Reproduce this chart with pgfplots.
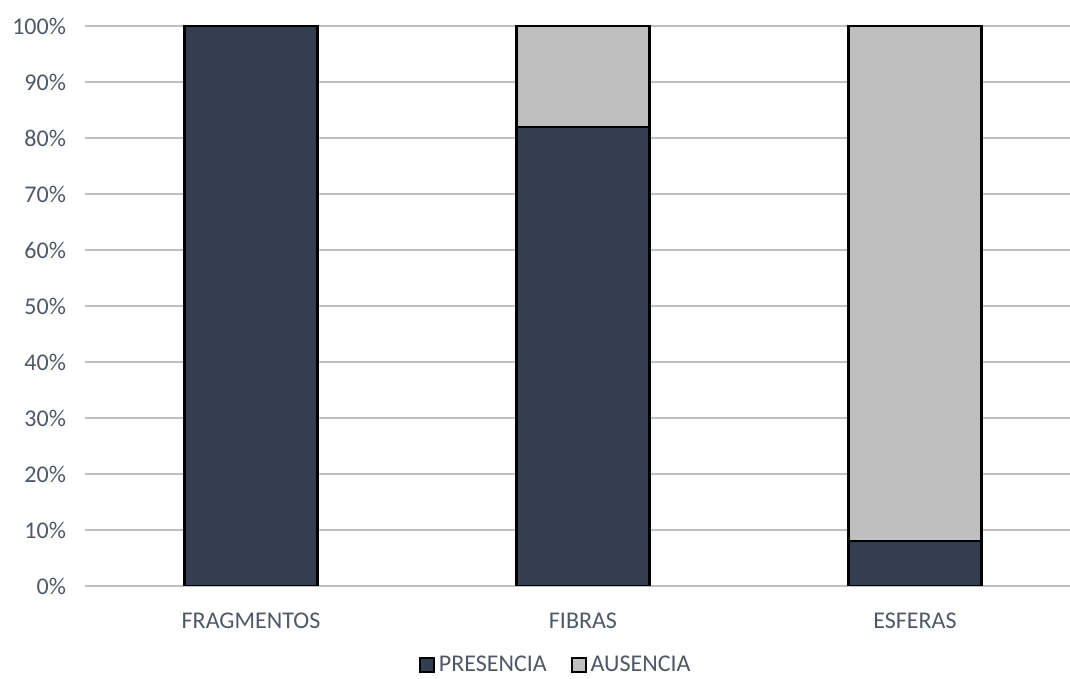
\documentclass[border=0pt]{standalone}
\usepackage{pgfplots}
\pgfplotsset{compat=1.18}
\usepackage{fontspec}
\setmainfont{Carlito}
\definecolor{dark}{RGB}{51,63,80}
\definecolor{light}{RGB}{191,191,191}
\definecolor{txt}{RGB}{80,88,102}
\definecolor{grid}{RGB}{221,225,232}
\begin{document}
\begin{tikzpicture}
\begin{axis}[
  at={(0,0)}, anchor=south west,
  scale only axis,
  width=492.5pt, height=280pt,
  ybar stacked,
  bar width=66.5pt,
  xmin=-0.5, xmax=2.467,
  ymin=0, ymax=100,
  xtick={0,1,2},
  xticklabels={FRAGMENTOS,FIBRAS,ESFERAS},
  ytick={0,10,...,100},
  yticklabel={\pgfmathprintnumber{\tick}\%},
  /pgf/number format/assume math mode=true,
  major tick length=0pt,
  axis line style={draw=none},
  ymajorgrids,
  grid style={grid, line width=0.9pt},
  font=\fontsize{12pt}{14pt}\selectfont,
  tick label style={text=txt},
  yticklabel style={xshift=-6pt},
  xticklabel style={yshift=-10pt},
  legend style={at={(0.479,-0.141)}, anchor=center, draw=none, legend columns=2,
    /tikz/every even column/.append style={column sep=10pt}, text=txt,
    font=\fontsize{12pt}{14pt}\selectfont},
  legend image code/.code={\draw[#1, draw=black, line width=0.9pt] (0pt,-3.5pt) rectangle (7pt,3.5pt);},
  legend cell align=left,
]
\addplot[fill=dark, draw=black, line width=1.2pt] coordinates {(0,100) (1,82) (2,8)};
\addplot[fill=light, draw=black, line width=1.2pt] coordinates {(0,0) (1,18) (2,92)};
\legend{PRESENCIA, AUSENCIA}
\end{axis}
\pgfresetboundingbox
\useasboundingbox (-42.5pt,-46.5pt) rectangle (492.5pt,293pt);
\end{tikzpicture}
\end{document}
